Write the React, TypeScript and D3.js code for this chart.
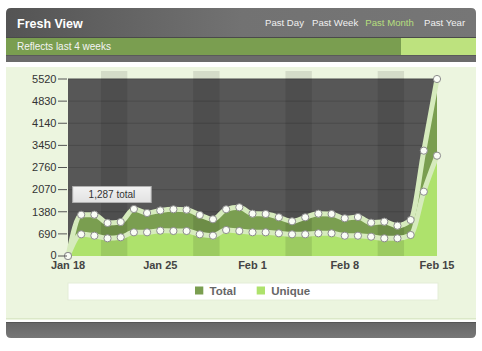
import React from "react";
import * as d3 from "d3";

const tickLabelsX = ["Jan 18", "Jan 25", "Feb 1", "Feb 8", "Feb 15"];
const tickIndexX = [0, 7, 14, 21, 28];
const yTicks = [0, 690, 1380, 2070, 2760, 3450, 4140, 4830, 5520];
const totalValues = [0, 1287, 1290, 1030, 1060, 1466, 1341, 1420, 1457, 1444, 1279, 1145, 1457, 1519, 1319, 1310, 1207, 1082, 1207, 1320, 1310, 1176, 1216, 1039, 1070, 945, 1123, 3285, 5520];
const uniqueValues = [0, 677, 633, 552, 583, 739, 739, 790, 780, 780, 676, 633, 811, 780, 739, 739, 708, 676, 676, 708, 708, 633, 633, 602, 552, 552, 655, 2005, 3128];
const weekendDays = [[3, 4], [10, 11], [17, 18], [24, 25]];
const menuItems = ["Past Day", "Past Week", "Past Month", "Past Year"];
const legendNames = ["Total", "Unique"];
const tooltipText = "1,287 total";
const tooltipIndex = 1;

const FONT = "'Liberation Sans', Arial, sans-serif";

export default function App() {
  const W = 482, H = 351;
  const left = 68, right = 437, top = 79, bottom = 256;
  const x = d3.scaleLinear().domain([0, 28]).range([left, right]);
  const y = d3.scaleLinear().domain([0, 5520]).range([bottom, top]);

  const areaTotal = d3.area<number>().x((_, i) => x(i)).y0(y(0)).y1((d) => y(d)).curve(d3.curveMonotoneX);
  const lineGen = d3.line<number>().x((_, i) => x(i)).y((d) => y(d)).curve(d3.curveMonotoneX);

  const menuX = [265, 312, 365.3, 424];
  const legendColors = ["#7a9e50", "#aee26c"];
  const legendX = [195, 256.7];

  return (
    <svg width={W} height={H} style={{ position: "absolute", left: 0, top: 0, display: "block" }} fontFamily={FONT}>
      <defs>
        <linearGradient id="hdr" x1="0" x2="1" y1="0" y2="0">
          <stop offset="0" stopColor="#545454" />
          <stop offset="0.5" stopColor="#727272" />
          <stop offset="1" stopColor="#767676" />
        </linearGradient>
        <linearGradient id="ftr" x1="0" x2="0" y1="0" y2="1">
          <stop offset="0" stopColor="#666" />
          <stop offset="1" stopColor="#777" />
        </linearGradient>
        <linearGradient id="tip" x1="0" x2="0" y1="0" y2="1">
          <stop offset="0" stopColor="#f2f2f2" />
          <stop offset="1" stopColor="#e2e2e2" />
        </linearGradient>
        <clipPath id="plotclip">
          <rect x={left} y={top - 2} width={right - left + 6} height={bottom - top + 2} />
        </clipPath>
      </defs>
      <rect x={0} y={0} width={W} height={H} fill="#fff" />
      {/* header */}
      <path d="M6,37 L6,13 Q6,8 11,8 L471,8 Q476,8 476,13 L476,37 Z" fill="url(#hdr)" />
      <text x={17} y={27.5} fill="#fff" fontSize={12.5} fontWeight="bold">Fresh View</text>
      {menuItems.map((m, i) => (
        <text key={m} x={menuX[i]} y={26} fontSize={9.6} fill={i === 2 ? "#b6df7e" : "#f0f0f0"}>{m}</text>
      ))}
      <rect x={6} y={37} width={470} height={1} fill="#4a4a4a" />
      {/* green bar */}
      <rect x={6} y={38} width={470} height={17} fill="#7a9e50" />
      <rect x={401} y={38} width={75} height={17} fill="#bde27e" />
      <text x={17} y={49.5} fontSize={10} fill="#f4f4f4">Reflects last 4 weeks</text>
      <rect x={6} y={55} width={470} height={7} fill="#6b6b6b" />
      <rect x={6} y={55} width={470} height={1} fill="#5a5a5a" />
      {/* body */}
      <rect x={6} y={67} width={470} height={253} fill="#ecf5df" />
      <rect x={6} y={318} width={470} height={1} fill="#dbe8c8" />
      {/* footer */}
      <path d="M6,322 L476,322 L476,333 Q476,338 471,338 L11,338 Q6,338 6,333 Z" fill="url(#ftr)" />
      <rect x={6} y={322} width={470} height={1} fill="#555" />

      {/* plot background */}
      <rect x={left} y={top} width={right - left} height={bottom - top} fill="#575757" />
      {yTicks.slice(1).map((t) => (
        <line key={t} x1={left} x2={right} y1={y(t)} y2={y(t)} stroke="#4b4b4b" strokeWidth={1} />
      ))}

      {/* areas */}
      <g clipPath="url(#plotclip)">
        <path d={areaTotal(totalValues) || ""} fill="#7a9e50" />
        <path d={areaTotal(uniqueValues) || ""} fill="#aee26c" />
      </g>

      {/* weekend bands */}
      {weekendDays.map(([a, b]) => (
        <rect key={a} x={x(a - 0.5)} y={71} width={x(b + 0.5) - x(a - 0.5)} height={bottom - 71} fill="rgba(0,0,0,0.1)" />
      ))}

      {/* lines */}
      <path d={lineGen(totalValues) || ""} fill="none" stroke="#d6ebbd" strokeWidth={5} strokeLinejoin="round" />
      <path d={lineGen(uniqueValues) || ""} fill="none" stroke="#d6ebbd" strokeWidth={5} strokeLinejoin="round" />
      {[totalValues, uniqueValues].map((s, si) =>
        s.map((v, i) => (
          <circle key={si + "-" + i} cx={x(i)} cy={y(v)} r={3.6} fill="#fafdf6" stroke="#8c8c8c" strokeWidth={1} />
        ))
      )}

      {/* y axis */}
      {yTicks.map((t) => (
        <g key={t}>
          <line x1={58} x2={67} y1={y(t)} y2={y(t)} stroke="#555" strokeWidth={1} />
          <text x={56.5} y={y(t) - (t === 0 ? 1 : 0)} dy="0.35em" textAnchor="end" fontSize={11} fill="#333">{t}</text>
        </g>
      ))}
      {/* x axis */}
      {tickLabelsX.map((l, i) => (
        <text key={l} x={x(tickIndexX[i])} y={269} textAnchor="middle" fontSize={11} fontWeight="bold" fill="#444">{l}</text>
      ))}

      {/* tooltip */}
      <rect x={x(tooltipIndex) - 8.5} y={186.5} width={78.5} height={16} fill="url(#tip)" stroke="#b0b0b0" strokeWidth={1} />
      <text x={x(tooltipIndex) + 30.8} y={198} textAnchor="middle" fontSize={10} fill="#333">{tooltipText}</text>

      {/* legend */}
      <rect x={68} y={283} width={370} height={17} fill="#fff" stroke="#e4eed8" strokeWidth={1} />
      {legendNames.map((n, i) => (
        <g key={n}>
          <rect x={legendX[i]} y={286.5} width={8.3} height={8} fill={legendColors[i]} />
          <text x={legendX[i] + 14.5} y={295} fontSize={11.5} fontWeight="bold" fill="#666">{n}</text>
        </g>
      ))}
    </svg>
  );
}
